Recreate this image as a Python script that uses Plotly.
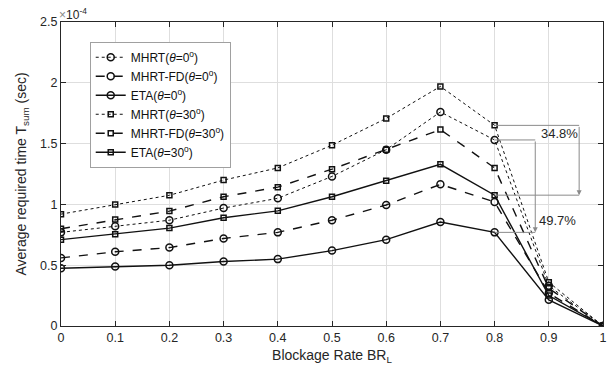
import plotly.graph_objects as go

x = [0, 0.1, 0.2, 0.3, 0.4, 0.5, 0.6, 0.7, 0.8, 0.9, 1.0]
mhrt_0 = [0.77, 0.82, 0.87, 0.97, 1.05, 1.23, 1.45, 1.76, 1.53, 0.33, 0.0]
mhrt_fd_0 = [0.56, 0.61, 0.645, 0.72, 0.77, 0.87, 0.995, 1.165, 1.02, 0.27, 0.0]
eta_0 = [0.475, 0.49, 0.50, 0.53, 0.55, 0.62, 0.71, 0.855, 0.77, 0.215, 0.0]
mhrt_30 = [0.92, 1.0, 1.075, 1.20, 1.30, 1.487, 1.707, 1.97, 1.65, 0.36, 0.0]
mhrt_fd_30 = [0.80, 0.875, 0.945, 1.063, 1.142, 1.29, 1.45, 1.615, 1.30, 0.31, 0.0]
eta_30 = [0.71, 0.755, 0.805, 0.89, 0.947, 1.063, 1.195, 1.33, 1.076, 0.25, 0.0]

y_ticks = [0, 0.5, 1, 1.5, 2, 2.5]
y_tick_labels = ["0", "0.5", "1", "1.5", "2", "2.5"]
x_ticks = [0, 0.1, 0.2, 0.3, 0.4, 0.5, 0.6, 0.7, 0.8, 0.9, 1]
x_tick_labels = ["0", "0.1", "0.2", "0.3", "0.4", "0.5", "0.6", "0.7", "0.8", "0.9", "1"]

series = [
    ("MHRT(<i>θ</i>=0<sup>o</sup>)", mhrt_0, "dot", "circle-open", 7, 1.0),
    ("MHRT-FD(<i>θ</i>=0<sup>o</sup>)", mhrt_fd_0, "dash", "circle-open", 7, 1.4),
    ("ETA(<i>θ</i>=0<sup>o</sup>)", eta_0, "solid", "circle-open", 7, 1.4),
    ("MHRT(<i>θ</i>=30<sup>o</sup>)", mhrt_30, "dot", "square-open", 5, 1.0),
    ("MHRT-FD(<i>θ</i>=30<sup>o</sup>)", mhrt_fd_30, "dash", "square-open", 5, 1.4),
    ("ETA(<i>θ</i>=30<sup>o</sup>)", eta_30, "solid", "square-open", 5, 1.4),
]

fig = go.Figure()
for name, ys, dash, sym, ms, lw in series:
    fig.add_trace(go.Scatter(
        x=x, y=ys, name=name, mode="lines+markers",
        line=dict(color="#111111", width=lw, dash=dash),
        marker=dict(symbol=sym, size=ms, color="#111111", line=dict(width=1.5, color="#111111")),
    ))

ann_color = "#8a8a8a"
i8 = 8
xa1 = 0.956
xa2 = 0.875
# 34.8% annotation (theta = 30)
fig.add_shape(type="line", x0=x[i8], x1=xa1, y0=mhrt_30[i8], y1=mhrt_30[i8], line=dict(color=ann_color, width=1))
fig.add_shape(type="line", x0=x[i8], x1=xa1, y0=eta_30[i8], y1=eta_30[i8], line=dict(color=ann_color, width=1))
fig.add_annotation(x=xa1, y=eta_30[i8], ax=xa1, ay=mhrt_30[i8], xref="x", yref="y", axref="x", ayref="y",
                   showarrow=True, arrowhead=2, arrowsize=1, arrowwidth=1, arrowcolor=ann_color, text="")
fig.add_annotation(x=0.881, y=1.585, xref="x", yref="y", text="34.8%", showarrow=False,
                   font=dict(size=13, color="#262626"), xanchor="left")
# 49.7% annotation (theta = 0)
fig.add_shape(type="line", x0=x[i8], x1=xa2, y0=mhrt_0[i8], y1=mhrt_0[i8], line=dict(color=ann_color, width=1))
fig.add_shape(type="line", x0=x[i8], x1=xa2, y0=eta_0[i8], y1=eta_0[i8], line=dict(color=ann_color, width=1))
fig.add_annotation(x=xa2, y=eta_0[i8], ax=xa2, ay=mhrt_0[i8], xref="x", yref="y", axref="x", ayref="y",
                   showarrow=True, arrowhead=2, arrowsize=1, arrowwidth=1, arrowcolor=ann_color, text="")
fig.add_annotation(x=0.879, y=0.87, xref="x", yref="y", text="49.7%", showarrow=False,
                   font=dict(size=13, color="#262626"), xanchor="left")

fig.add_annotation(x=0, y=1, xref="paper", yref="paper", yanchor="bottom", xanchor="left",
                   text="<span style='color:#8a8a8a'>×</span>10<sup>-4</sup>", showarrow=False,
                   font=dict(size=12, color="#262626"), xshift=-4, yshift=-2)

axis_common = dict(
    showline=True, linecolor="#262626", linewidth=1, mirror="ticks",
    ticks="inside", ticklen=5, tickcolor="#262626",
    showgrid=True, gridcolor="#dedede", gridwidth=1, zeroline=False,
    tickfont=dict(family="Liberation Sans, Arial", size=12.5, color="#262626"),
    automargin=False, ticklabeloverflow="allow",
)

fig.update_layout(
    width=613, height=370,
    margin=dict(l=61, r=10, t=22, b=44),
    plot_bgcolor="white", paper_bgcolor="white",
    font=dict(family="Liberation Sans, Arial", color="#262626"),
    xaxis=dict(range=[0, 1], tickvals=x_ticks, ticktext=x_tick_labels,
               title=dict(text="Blockage Rate BR<sub>L</sub>", font=dict(size=14), standoff=6), **axis_common),
    yaxis=dict(range=[0, 2.5], tickvals=y_ticks, ticktext=y_tick_labels,
               title=dict(text="Average required time T<sub>sum</sub> (sec)", font=dict(size=14), standoff=10), **axis_common),
    legend=dict(x=0.053, y=0.935, xanchor="left", yanchor="top",
                bgcolor="white", bordercolor="#a0a0a0", borderwidth=1,
                font=dict(size=12, color="#111111"), tracegroupgap=0, itemwidth=30),
    showlegend=True,
)

fig.write_html("out.html", config={"displayModeBar": False},
               post_script="document.body.style.margin='0';document.body.style.padding='0';")
